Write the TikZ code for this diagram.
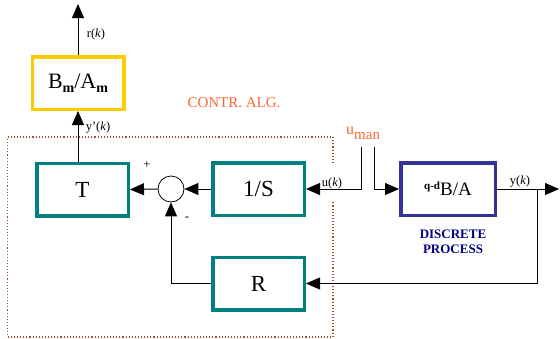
\documentclass[tikz,border=0pt]{standalone}
\usepackage{fontspec}
\setmainfont{Liberation Serif}
\usetikzlibrary{arrows.meta}
\definecolor{tealbox}{HTML}{008080}
\definecolor{goldbox}{HTML}{FFCC00}
\definecolor{navybox}{HTML}{333399}
\definecolor{navytext}{HTML}{000080}
\definecolor{orangetext}{HTML}{FF6633}
\definecolor{dotbrown}{HTML}{A0522D}
\tikzset{
  blk/.style={draw=tealbox, line width=3.5pt, minimum width=91.5pt, minimum height=52.5pt, inner sep=0pt, font=\fontsize{23}{23}\selectfont},
  conn/.style={line width=1pt, black},
  arr/.style={conn, -{Triangle[length=14pt,width=12pt]}},
  lbl/.style={inner sep=0pt, font=\fontsize{12.5}{12.5}\selectfont},
}
\begin{document}
\begin{tikzpicture}[x=1pt,y=-1pt]
\useasboundingbox (0,0) rectangle (560,338);
\fill[white] (0,0) rectangle (560,338);

% dotted controller boundary
\draw[dotbrown, line width=1.1pt, dotted] (333,163) -- (333,137) -- (7.5,137) -- (7.5,337) -- (333,337) -- (333,202);

% blocks
\node[blk] (T) at (82.5,189.5) {T};
\node[blk] (S) at (258.5,189) {1/S};
\node[blk] (R) at (258.5,283.5) {R};
\node[blk, draw=goldbox, font=\fontsize{22}{22}\selectfont] (Bm) at (78,83) {B{\fontsize{14}{14}\selectfont\bfseries\raisebox{-4pt}{m}}/A{\fontsize{14}{14}\selectfont\bfseries\raisebox{-4pt}{m}}};
\node[blk, draw=navybox, minimum width=94.5pt, font=\fontsize{19}{19}\selectfont] (P) at (448,189) {\raisebox{6pt}{\fontsize{11}{11}\selectfont\bfseries q-d}B/A};
\node[circle, draw, line width=0.8pt, minimum size=26pt, inner sep=0pt] (sum) at (171,189) {};

% free ends
\coordinate (top) at (78,4);
\coordinate (uL) at (361.5,147);
\coordinate (uR) at (374,147);
\coordinate (out) at (559,189);
\coordinate (br) at (537,189);

% connectors
\draw[arr] (Bm.north) -- (top);
\draw[arr] (Bm.south |- T.north) -- (Bm.south);
\draw[arr] (S.west) -- (sum.east);
\draw[arr] (sum.west) -- (T.east);
\draw[arr] (R.west) -| (sum.south);
\draw[arr] (uL) |- (S.east);
\draw[arr] (uR) |- (P.west);
\draw[arr] (P.east) -- (out);
\draw[arr] (br) |- (R.east);

% labels
\node[lbl] (lr) at (96,34) {r(\textit{k})};
\node[lbl] (ly) at (98,127.5) {y'(\textit{k})};
\node[lbl] (lu) at (332,183) {u(\textit{k})};
\node[lbl] (lyk) at (520,182) {y(\textit{k})};
\node[lbl] (plus) at (147,165) {+};
\node[lbl] (minus) at (187,219) {-};
\node[inner sep=0pt, text=orangetext, font=\fontsize{15}{15}\selectfont] (calg) at (234,102.5) {CONTR. ALG.};
\node[inner sep=0pt, text=orangetext, font=\fontsize{16}{16}\selectfont, anchor=base west] (uman) at (346,134) {u{\fontsize{15}{15}\selectfont\raisebox{-5pt}{man}}};
\node[inner sep=0pt, text=navytext, font=\fontsize{13}{15}\selectfont\bfseries, align=center] (dp) at (453,242) {DISCRETE\\PROCESS};
\end{tikzpicture}
\end{document}
